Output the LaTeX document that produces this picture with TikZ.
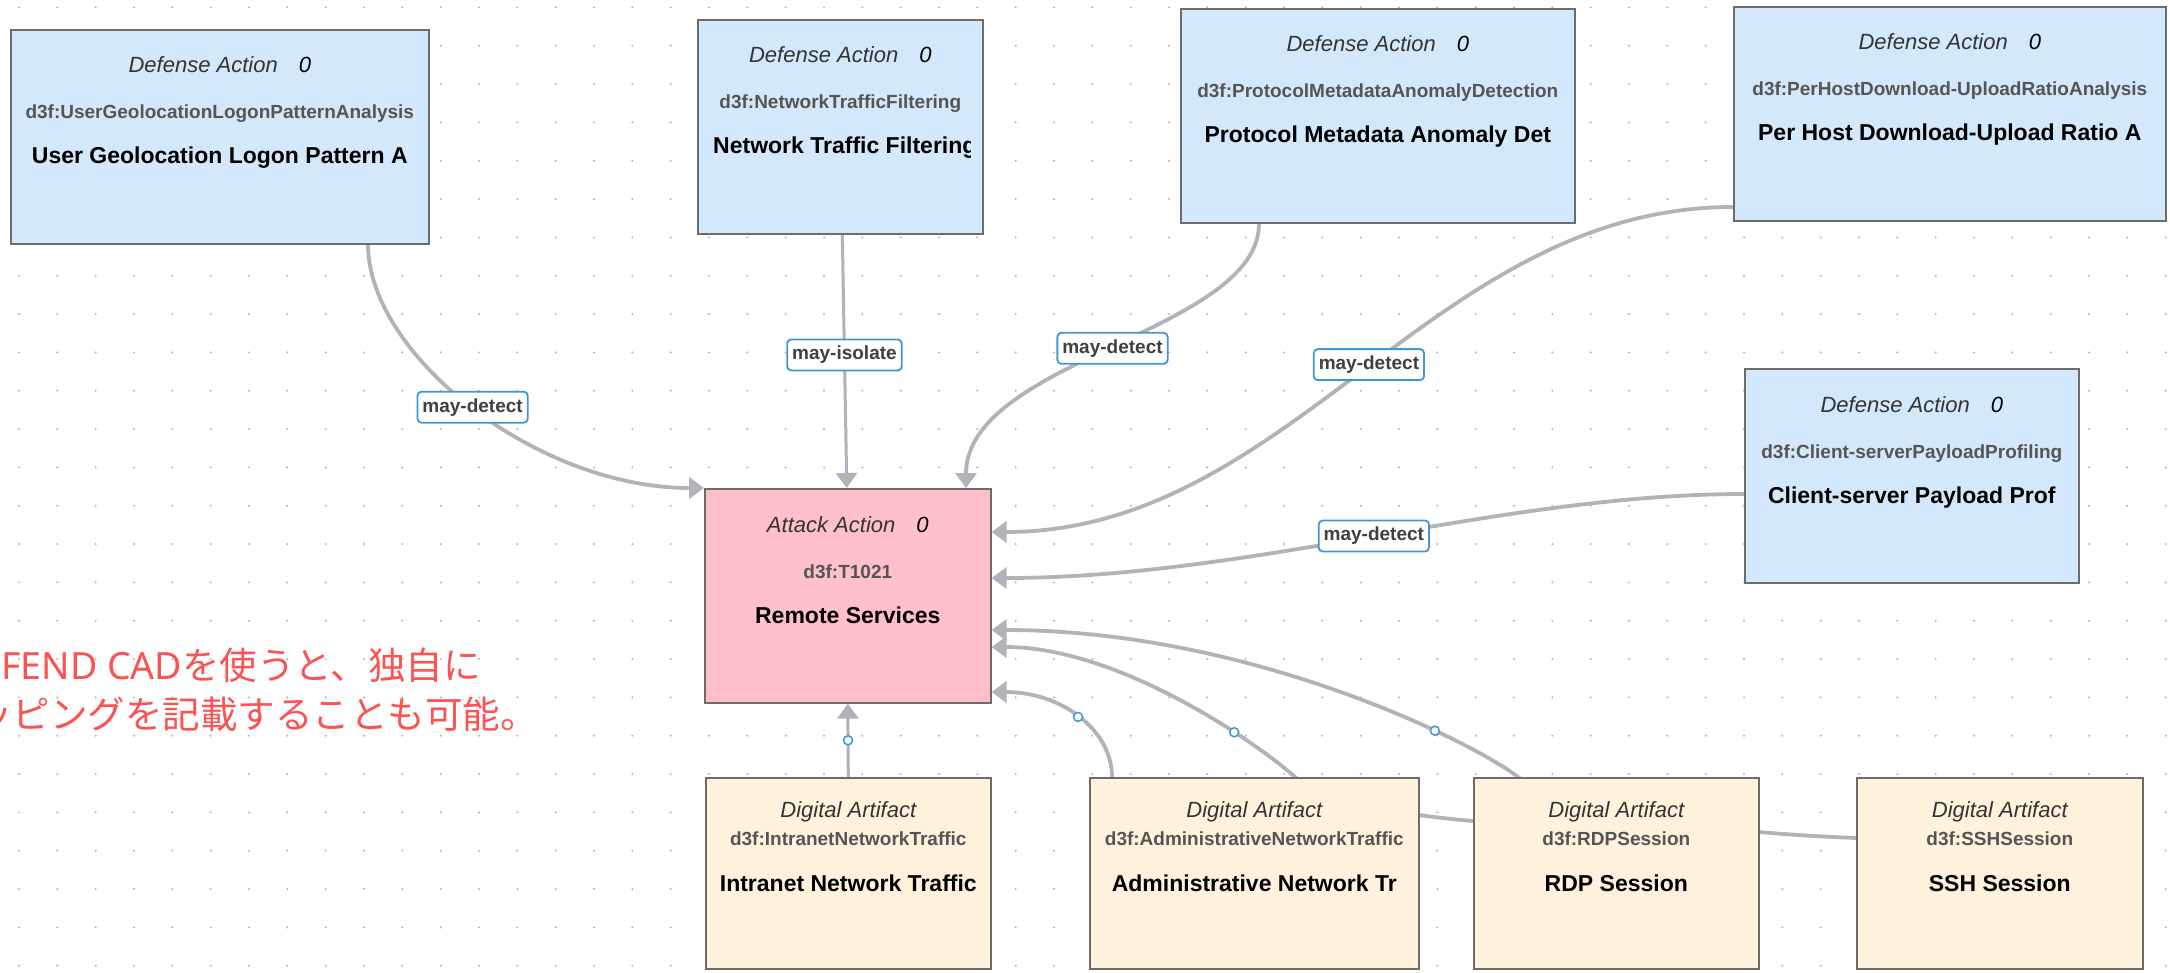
\documentclass[tikz,border=0pt]{standalone}
\usepackage{fontspec}
\setmainfont{Liberation Sans}
\newfontfamily\jpfont{Noto Sans CJK JP}
\newfontfamily\jplatin{Noto Sans}
\usetikzlibrary{arrows.meta,calc}
\pgfdeclarelayer{grid}
\pgfdeclarelayer{edges}
\pgfsetlayers{grid,edges,main}

\definecolor{defblue}{RGB}{212,232,252}
\definecolor{atkpink}{RGB}{255,192,203}
\definecolor{artcream}{RGB}{255,242,220}
\definecolor{boxline}{RGB}{108,108,108}
\definecolor{edgegray}{RGB}{178,178,186}
\definecolor{dotgray}{RGB}{178,178,178}
\definecolor{tagblue}{RGB}{66,150,212}
\definecolor{textdark}{RGB}{51,51,51}
\definecolor{tagtext}{RGB}{64,64,64}
\definecolor{idgray}{RGB}{85,85,85}
\definecolor{notered}{RGB}{252,82,82}

\tikzset{
  cadbox/.style={draw=boxline, line width=1.6pt, inner sep=0pt, anchor=north west, minimum height=214pt},
  defbox/.style={cadbox, fill=defblue},
  atkbox/.style={cadbox, fill=atkpink},
  artbox/.style={cadbox, fill=artcream, minimum height=191pt},
  kindtxt/.style={anchor=base, inner sep=0pt, text=textdark, font=\fontsize{22}{26}\selectfont\itshape},
  idtxt/.style={anchor=base, inner sep=0pt, text=idgray, font=\fontsize{19}{23}\selectfont\bfseries},
  titletxt/.style={anchor=base, inner sep=0pt, text=black, font=\fontsize{23}{27}\selectfont\bfseries},
  rel/.style={draw=edgegray, line width=3.8pt, -{Triangle[length=15pt,width=21pt]}},
  thinrel/.style={rel, line width=3pt},
  tag/.style={draw=tagblue, line width=1.8pt, fill=white, rounded corners=4pt, text=tagtext,
    font=\fontsize{19}{23}\selectfont\bfseries, inner xsep=5pt, inner ysep=0pt, minimum height=31pt},
  knob/.style={draw=tagblue, line width=1.5pt, fill=white, circle, inner sep=0pt, minimum size=9pt},
  note/.style={anchor=base west, inner sep=0pt, text=notered, font=\fontsize{37.5}{46}\selectfont},
}

% three text lines of a defense / attack box
\newcommand\cadactiontexts[4]{%
  \node[kindtxt] (#1-kind) at ($(#1.north)+(0,44)$) {#2\hspace{21pt}\textcolor{black}{0}};
  \node[idtxt] (#1-id) at ($(#1.north)+(0,90)$) {#3};
  \node[titletxt] (#1-title) at ($(#1.north)+(0,135)$) {#4};
}
% three text lines of a digital artifact box
\newcommand\cadartifacttexts[3]{%
  \node[kindtxt] (#1-kind) at ($(#1.north)+(0,40)$) {Digital Artifact};
  \node[idtxt] (#1-id) at ($(#1.north)+(0,68)$) {#2};
  \node[titletxt] (#1-title) at ($(#1.north)+(0,114)$) {#3};
}

\begin{document}
\begin{tikzpicture}[x=1pt,y=-1pt]
\useasboundingbox (0,0) rectangle (2170,973);

% dotted canvas grid
\begin{pgfonlayer}{grid}
  \fill[white] (0,0) rectangle (2170,973);
  \foreach \i in {0,...,56}{
    \foreach \j in {0,...,25}{
      \fill[dotgray] ({19+38.333*\i},{7.4+38.333*\j}) circle (1.1pt);
    }
  }
\end{pgfonlayer}

% defense actions
\node[defbox, minimum width=418pt] (dua) at (10,29) {};
\node[defbox, minimum width=285pt] (ntf) at (697,19) {};
\node[defbox, minimum width=394pt] (pmad) at (1180,8) {};
\node[defbox, minimum width=432pt] (phd) at (1733,6) {};
\node[defbox, minimum width=334pt] (csp) at (1744,368) {};
% attack action
\node[atkbox, minimum width=286pt] (t1021) at (704,488) {};
% digital artifacts
\node[artbox, minimum width=285pt] (inf) at (705,777) {};
\node[artbox, minimum width=329pt] (ant) at (1089,777) {};
\node[artbox, minimum width=285pt] (rdp) at (1473,777) {};
\node[artbox, minimum width=286pt] (ssh) at (1856,777) {};

\cadactiontexts{dua}{Defense Action}{d3f:UserGeolocationLogonPatternAnalysis}{User Geolocation Logon Pattern A}
\node[kindtxt] (ntf-kind) at ($(ntf.north)+(0,44)$) {Defense Action\hspace{21pt}\textcolor{black}{0}};
\node[idtxt] (ntf-id) at ($(ntf.north)+(0,90)$) {d3f:NetworkTrafficFiltering};
\begin{scope}
  \clip (ntf.north west) rectangle ($(ntf.south east)+(-13,0)$);
  \node[titletxt, anchor=base west] (ntf-title) at ($(ntf.north west)+(16,135)$) {Network Traffic Filtering};
\end{scope}
\cadactiontexts{pmad}{Defense Action}{d3f:ProtocolMetadataAnomalyDetection}{Protocol Metadata Anomaly Det}
\cadactiontexts{phd}{Defense Action}{d3f:PerHostDownload-UploadRatioAnalysis}{Per Host Download-Upload Ratio A}
\cadactiontexts{csp}{Defense Action}{d3f:Client-serverPayloadProfiling}{Client-server Payload Prof}
\cadactiontexts{t1021}{Attack Action}{d3f:T1021}{Remote Services}
\cadartifacttexts{inf}{d3f:IntranetNetworkTraffic}{Intranet Network Traffic}
\cadartifacttexts{ant}{d3f:AdministrativeNetworkTraffic}{Administrative Network Tr}
\cadartifacttexts{rdp}{d3f:RDPSession}{RDP Session}
\cadartifacttexts{ssh}{d3f:SSHSession}{SSH Session}

% relations, drawn beneath the boxes
\begin{pgfonlayer}{edges}
  \draw[rel] ($(dua.south west)+(358,0)$) .. controls +(0,109) and +(-169,0) .. (t1021.north west)
    node[tag, pos=.5] (tag-geo) {may-detect};
  \draw[thinrel] ($(ntf.south)+(2,0)$) -- ($(t1021.north)+(-1,0)$)
    node[tag, pos=.475] (tag-iso) {may-isolate};
  \draw[rel] ($(pmad.south west)+(79,0)$) .. controls +(0,108) and +(0,-128) .. ($(t1021.north west)+(262,0)$)
    node[tag, pos=.5] (tag-pmad) {may-detect};
  \draw[rel] ($(phd.north west)+(0,201)$) .. controls +(-300,0) and +(300,0) .. ($(t1021.north east)+(0,44)$)
    node[tag, pos=.49] (tag-phd) {may-detect};
  \draw[rel] ($(csp.north west)+(0,126)$) .. controls +(-244,0) and +(260,0) .. ($(t1021.north east)+(0,90)$)
    node[tag, pos=.5] (tag-csp) {may-detect};

  \draw[thinrel] (inf.north) -- (t1021.south)
    node[knob, pos=.5] (knob-inf) {};
  \draw[rel] ($(ant.north west)+(23,0)$) .. controls +(0,-47) and +(70,0) .. ($(t1021.north east)+(0,204)$)
    node[knob, pos=.5] (knob-ant) {};
  \draw[rel] ($(rdp.north west)+(0,44)$) .. controls +(-73,-6) and +(25,23) .. ($(ant.north west)+(206,0)$)
    .. controls +(-33,-30) and +(130,0) .. ($(t1021.north east)+(0,159)$)
    node[knob, pos=.32] (knob-rdp) {};
  \draw[rel] ($(ssh.north west)+(0,61)$) .. controls +(-156,-6) and +(42,33) .. ($(rdp.north west)+(45,0)$)
    .. controls +(-42,-33) and +(260,0) .. ($(t1021.north east)+(0,142)$)
    node[knob, pos=.3] (knob-ssh) {};
\end{pgfonlayer}

% note in red
\begin{scope}
  \clip (0,0) rectangle (2170,973);
  \node[note] (note-a) at (1,679) {{\jplatin FEND CAD}{\jpfont を使うと、独自に}};
  \node[note] (note-b) at (-25,728) {\jpfont ッピングを記載することも可能。};
\end{scope}
\end{tikzpicture}
\end{document}
